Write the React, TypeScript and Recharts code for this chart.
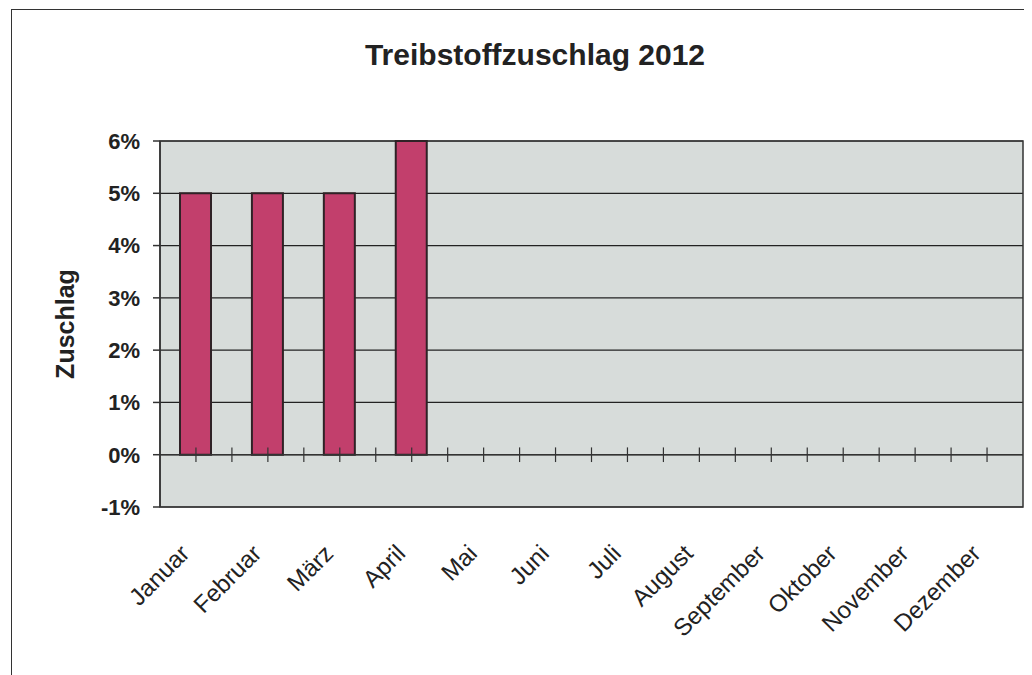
import { BarChart, Bar, XAxis, YAxis, CartesianGrid, ReferenceLine, ReferenceArea } from "recharts";

const months = [
  "Januar",
  "Februar",
  "März",
  "April",
  "Mai",
  "Juni",
  "Juli",
  "August",
  "September",
  "Oktober",
  "November",
  "Dezember",
];

// Zuschlag in %, only Jan-Apr published
const surcharge = [5, 5, 5, 6, null, null, null, null, null, null, null, null];

const yTicks = [-1, 0, 1, 2, 3, 4, 5, 6];

// pos = category centre on a 0..12 number scale, used for the 0% tick marks
const data = months.map((month, i) => ({ month, pos: i + 0.5, value: surcharge[i] }));

// tick marks on the 0% line: category centers and boundaries
const zeroTicks = Array.from({ length: 23 }, (_, i) => (i + 1) / 2);

const font = "'Liberation Sans', Arial, sans-serif";

const MonthTick = ({ x, y, payload }: any) => (
  <g transform={`translate(${x - 5},${y + 48})`}>
    <text
      textAnchor="end"
      transform="rotate(-45)"
      fontSize={24}
      fontFamily={font}
      fill="#222"
    >
      {payload.value}
    </text>
  </g>
);

export default function App() {
  return (
    <div style={{ position: "relative", width: 1024, height: 667 }}>
      <div
        style={{
          position: "absolute",
          left: 3,
          top: 1,
          width: 1021,
          height: 666,
          borderLeft: "1.5px solid #333",
          borderTop: "1.5px solid #333",
          boxSizing: "border-box",
        }}
      />
      <div
        style={{
          position: "absolute",
          left: 327,
          top: 32,
          width: 400,
          textAlign: "center",
          fontFamily: font,
          fontWeight: "bold",
          fontSize: 30,
          lineHeight: "30px",
          color: "#222",
        }}
      >
        Treibstoffzuschlag 2012
      </div>
      <BarChart
        width={1024}
        height={667}
        data={data}
        margin={{ top: 133, right: 9, bottom: 48, left: 0 }}
        barSize={31}
        style={{ position: "absolute", left: 0, top: 0 }}
      >
        <CartesianGrid vertical={false} stroke="#222" strokeWidth={1.2} fill="#d7dcda" fillOpacity={1} />
        <XAxis
          dataKey="month"
          height={120}
          axisLine={false}
          tickLine={false}
          tickSize={0}
          tickMargin={0}
          interval={0}
          tick={<MonthTick />}
        />
        <XAxis
          xAxisId="num"
          dataKey="pos"
          type="number"
          domain={[0, 12]}
          allowDataOverflow
          hide
        />
        <YAxis
          width={152}
          domain={[-1, 6]}
          ticks={yTicks}
          interval={0}
          tickFormatter={(v) => `${v}%`}
          tickSize={7}
          tickMargin={13}
          stroke="#333"
          strokeWidth={1.5}
          tick={{ fontSize: 22, fontWeight: "bold", fill: "#222", fontFamily: font }}
          label={{
            content: ({ viewBox }: any) => (
              <text
                x={66}
                y={viewBox.y + viewBox.height / 2}
                transform={`rotate(-90, 66, ${viewBox.y + viewBox.height / 2})`}
                textAnchor="middle"
                fontSize={25}
                fontWeight="bold"
                fontFamily={font}
                fill="#222"
              >
                Zuschlag
              </text>
            ),
          }}
        />
        <ReferenceArea
          xAxisId="num"
          x1={0}
          x2={12}
          y1={-1}
          y2={6}
          fill="none"
          stroke="#333"
          strokeWidth={1.5}
        />
        <Bar
          dataKey="value"
          fill="#c23f6c"
          stroke="#2f2226"
          strokeWidth={2}
          isAnimationActive={false}
        />
        <ReferenceLine y={0} stroke="#333" strokeWidth={1.5} />
        {zeroTicks.map((t) => (
          <ReferenceLine
            key={t}
            xAxisId="num"
            segment={[
              { x: t, y: -0.14 },
              { x: t, y: 0.14 },
            ]}
            stroke="#333"
            strokeWidth={1.2}
          />
        ))}
      </BarChart>
    </div>
  );
}
